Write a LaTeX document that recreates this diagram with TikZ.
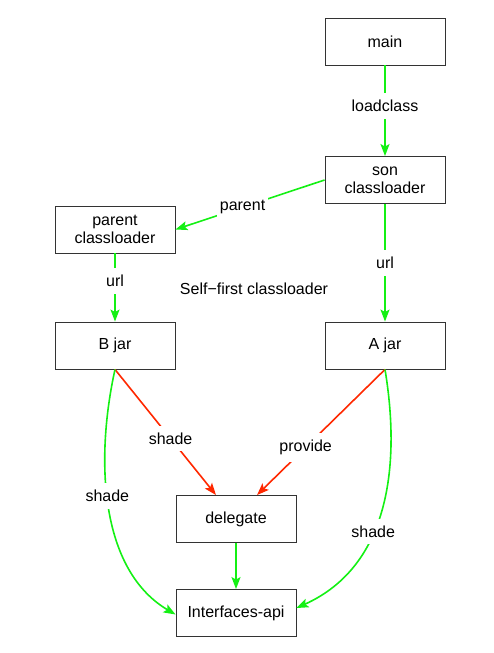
\documentclass[tikz,border=0pt]{standalone}
\usepackage{fontspec}
\setmainfont{Liberation Sans}
\usetikzlibrary{arrows.meta}
\definecolor{lgreen}{RGB}{20,240,20}
\definecolor{lred}{RGB}{255,40,0}
\begin{document}
\begin{tikzpicture}[x=1pt,y=-1pt,
  box/.style={draw=black!80, line width=0.9pt, minimum width=120pt, minimum height=47pt,
    align=center, inner sep=0pt, font=\fontsize{16}{18.3}\selectfont},
  lbl/.style={fill=white, inner xsep=3pt, inner ysep=7pt, font=\fontsize{16}{18.3}\selectfont},
  tip/.style={-{Stealth[length=12pt,width=9pt,inset=2.5pt]}},
  garr/.style={draw=lgreen, line width=1.6pt, tip},
  rarr/.style={draw=lred, line width=1.6pt, tip}]
\useasboundingbox (0,0) rectangle (494,653);
\node[box] (main) at (385,41.5) {main};
\node[box] (son) at (385,180) {son\\classloader};
\node[box] (parent) at (115,229.5) {parent\\classloader};
\node[box] (bjar) at (115,345.5) {B jar};
\node[box] (ajar) at (385,345.5) {A jar};
\node[box] (del) at (236,519) {delegate};
\node[box] (api) at (236,613) {Interfaces-api};
\node[font=\fontsize{16}{18.3}\selectfont] (title) at (254,289) {Self−first classloader};

\draw[garr] (main) -- node[lbl, pos=0.45] {loadclass} (son);
\draw[garr] (son.west) -- node[lbl, pos=0.55] {parent} (parent.east);
\draw[garr] (parent) -- node[lbl, pos=0.4] {url} (bjar);
\draw[garr] (son) -- node[lbl, pos=0.5] {url} (ajar);
\draw[rarr] (bjar.south) -- node[lbl, pos=0.55] {shade} ([xshift=-20pt]del.north);
\draw[rarr] (ajar.south) -- node[lbl, pos=0.62] {provide} ([xshift=21pt]del.north);
\draw[garr] (bjar.south) .. controls (95,460) and (100,570) .. node[lbl, pos=0.45] {shade} ([yshift=-1.5pt]api.west);
\draw[garr] (ajar.south) .. controls (400,460) and (392,565) .. node[lbl, pos=0.6] {shade} ([yshift=5pt]api.east);
\draw[garr] (del) -- (api);
\end{tikzpicture}
\end{document}
